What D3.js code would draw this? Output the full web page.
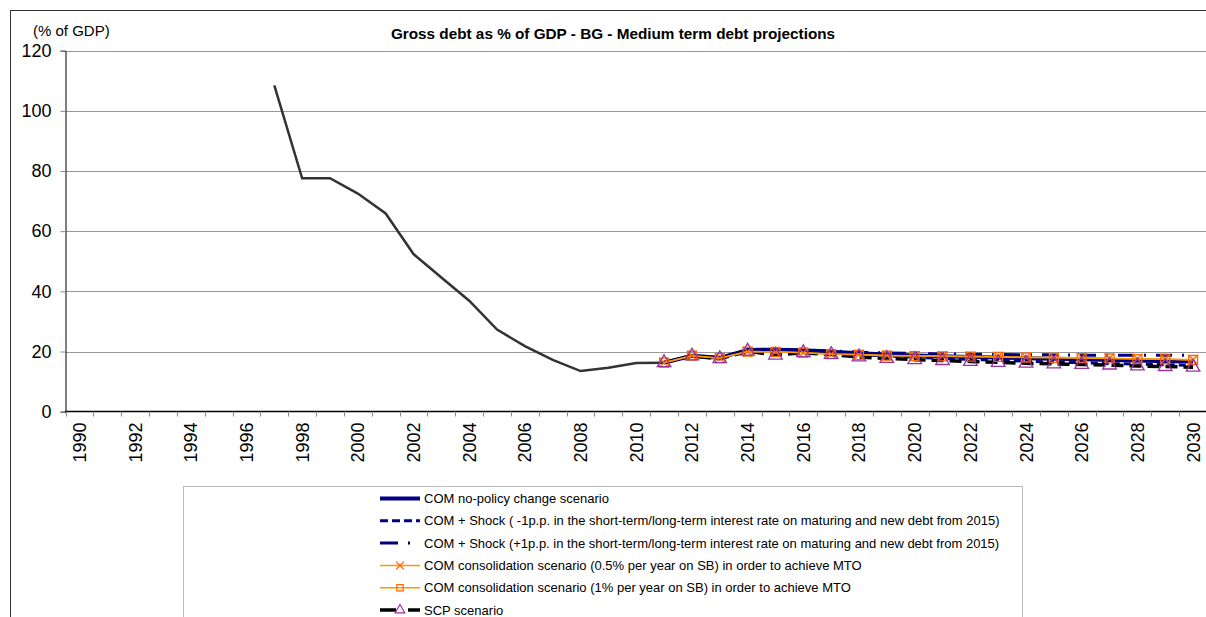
<!DOCTYPE html>
<html>
<head>
<meta charset="utf-8">
<script src="https://cdn.jsdelivr.net/npm/d3@7"></script>
<style>
  body { margin: 0; background: #fff; overflow: hidden; }
  svg { display: block; }
  text { font-family: "Liberation Sans", Arial, sans-serif; }
</style>
</head>
<body>
<svg id="chart"></svg>
<script>
// categories
const years = d3.range(1990, 2031)
const yTicks = [0, 20, 40, 60, 80, 100, 120]

// actual gross debt, 1997-2011
const actualYears = d3.range(1997, 2012)
const actualDebt = [108.5, 77.6, 77.6, 72.5, 65.9, 52.4, 44.6, 36.9, 27.3, 21.8, 17.2, 13.5, 14.6, 16.2, 16.3]

// projections, 2011-2030
const projYears = d3.range(2011, 2031)
const noPolicy   = [16.3, 18.6, 17.9, 20.5, 20.6, 20.4, 19.9, 19.4, 19.0, 18.7, 18.4, 18.2, 18.0, 17.8, 17.6, 17.4, 17.2, 17.0, 16.8, 16.7]
const shockMinus = [16.3, 18.6, 17.9, 20.5, 20.5, 20.2, 19.6, 19.0, 18.5, 18.1, 17.7, 17.4, 17.1, 16.8, 16.5, 16.3, 16.0, 15.8, 15.6, 15.4]
const shockPlus  = [16.3, 18.6, 17.9, 20.5, 20.7, 20.6, 20.2, 19.8, 19.5, 19.4, 19.2, 19.1, 19.0, 18.9, 18.9, 18.8, 18.8, 18.8, 18.8, 18.8]
const cons05     = [16.3, 18.6, 17.8, 20.0, 19.9, 19.6, 19.2, 19.0, 18.7, 18.6, 18.5, 18.4, 18.3, 18.1, 18.0, 17.9, 17.8, 17.6, 17.5, 17.3]
const cons1      = [16.3, 18.6, 17.8, 20.0, 19.9, 19.6, 19.1, 18.9, 18.6, 18.5, 18.4, 18.3, 18.2, 18.0, 17.9, 17.8, 17.7, 17.5, 17.4, 17.2]
const scp        = [16.3, 18.5, 17.6, 20.1, 18.8, 19.6, 19.0, 18.2, 17.7, 17.3, 17.0, 16.7, 16.4, 16.1, 15.9, 15.7, 15.5, 15.2, 15.0, 14.8]

const legendLabels = [
    "COM no-policy change scenario",
    "COM + Shock ( -1p.p. in the short-term/long-term interest rate on maturing and new debt from 2015)",
    "COM + Shock (+1p.p. in the short-term/long-term interest rate on maturing and new debt from 2015)",
    "COM consolidation scenario (0.5% per year on SB) in order to achieve MTO",
    "COM consolidation scenario (1% per year on SB) in order to achieve MTO",
    "SCP scenario"
]

const width = 1206,
    height = 617

const svg = d3.select("#chart")
    .attr("width", width)
    .attr("height", height)

// outer frame (cut off at right and bottom like the source)
svg.append("rect")
    .attr("x", 10.5).attr("y", 10.5)
    .attr("width", 1400).attr("height", 800)
    .attr("fill", "none").attr("stroke", "#333").attr("stroke-width", 1)

const x = d3.scaleBand()
    .domain(years)
    .range([65.5, 1207])
    .padding(0)

const y = d3.scaleLinear()
    .domain([0, 120])
    .range([411.7, 50.7])

const cx = d => x(d) + x.bandwidth() / 2

// gridlines
svg.append("g")
    .selectAll("line")
    .data(yTicks.filter(d => d > 0))
    .join("line")
    .attr("x1", 66).attr("x2", width)
    .attr("y1", d => Math.round(y(d)) + 0.5)
    .attr("y2", d => Math.round(y(d)) + 0.5)
    .attr("stroke", "#999").attr("stroke-width", 1)

// y axis
const yAxis = svg.append("g")
    .attr("transform", "translate(65.5,0)")
    .call(d3.axisLeft(y).tickValues(yTicks).tickSize(5).tickPadding(9))
yAxis.select(".domain").attr("stroke", "#000")
yAxis.selectAll(".tick line").attr("stroke", "#888")
yAxis.selectAll("text")
    .attr("font-size", 18).attr("fill", "#000")
    .attr("font-family", "Liberation Sans, Arial, sans-serif")

// x axis: ticks at band edges, labels every other year
const xAxis = svg.append("g").attr("transform", "translate(0,411.5)")
xAxis.append("line")
    .attr("x1", 65).attr("x2", width)
    .attr("stroke", "#000").attr("stroke-width", 1.5)
xAxis.selectAll(".edge")
    .data(years)
    .join("line")
    .attr("class", "edge")
    .attr("x1", d => Math.round(x(d)) + 0.5)
    .attr("x2", d => Math.round(x(d)) + 0.5)
    .attr("y1", 0).attr("y2", 5)
    .attr("stroke", "#888")
xAxis.selectAll("text")
    .data(years.filter(d => d % 2 === 0))
    .join("text")
    .attr("transform", d => "translate(" + (cx(d) + 6.5) + ",11) rotate(-90)")
    .attr("text-anchor", "end")
    .attr("font-size", 18)
    .text(d => d)

// titles
svg.append("text")
    .attr("x", 33).attr("y", 36)
    .attr("font-size", 15)
    .text("(% of GDP)")
svg.append("text")
    .attr("x", 613).attr("y", 39)
    .attr("text-anchor", "middle")
    .attr("font-size", 15.3).attr("font-weight", "bold")
    .text("Gross debt as % of GDP - BG - Medium term debt projections")

const lineGen = yrs => d3.line()
    .x((d, i) => cx(yrs[i]))
    .y(d => y(d))

// actual series
svg.append("path")
    .datum(actualDebt)
    .attr("d", lineGen(actualYears))
    .attr("fill", "none").attr("stroke", "#333").attr("stroke-width", 2.5)

// projection styles
const navy = "#000080", orange = "#ff9900", markOrange = "#ff6600", purple = "#993399"
const styles = [
    { data: noPolicy, stroke: navy, width: 4, dash: null },
    { data: shockMinus, stroke: navy, width: 3, dash: "7,4" },
    { data: shockPlus, stroke: navy, width: 3, dash: "16,10,2,10" },
    { data: scp, stroke: "#000", width: 3.5, dash: "12,6" },
    { data: cons05, stroke: orange, width: 1.5, dash: null },
    { data: cons1, stroke: orange, width: 1.5, dash: null }
]

styles.forEach(s => {
    svg.append("path")
        .datum(s.data)
        .attr("d", lineGen(projYears))
        .attr("fill", "none")
        .attr("stroke", s.stroke)
        .attr("stroke-width", s.width)
        .attr("stroke-dasharray", s.dash)
})

const squareSym = d3.symbol().type(d3.symbolSquare).size(80)
const crossSym = d3.symbol().type(d3.symbolX).size(60)
const triSym = d3.symbol().type(d3.symbolTriangle).size(80)

const drawMarkers = (data, sym, stroke, fill) => {
    svg.append("g")
        .selectAll("path")
        .data(data)
        .join("path")
        .attr("transform", (d, i) => "translate(" + cx(projYears[i]) + "," + y(d) + ")")
        .attr("d", sym)
        .attr("fill", fill)
        .attr("stroke", stroke)
        .attr("stroke-width", 1.3)
}
drawMarkers(cons1, squareSym, markOrange, "none")
drawMarkers(cons05, crossSym, markOrange, "none")
drawMarkers(scp, triSym, purple, "none")

// legend
const legend = svg.append("g")
legend.append("rect")
    .attr("x", 183.5).attr("y", 486.5)
    .attr("width", 839).attr("height", 200)
    .attr("fill", "#fff").attr("stroke", "#bbb")

const rowY = i => 498.5 + i * 22.3
const legStyles = [
    { stroke: navy, width: 4, dash: null },
    { stroke: navy, width: 3, dash: "8,4" },
    { stroke: navy, width: 3, dash: "18,10,2,10" },
    { stroke: orange, width: 1.5, dash: null, mark: crossSym },
    { stroke: orange, width: 1.5, dash: null, mark: squareSym },
    { stroke: "#000", width: 3.5, dash: "16,12" , mark: triSym}
]
legStyles.forEach((s, i) => {
    legend.append("line")
        .attr("x1", 380).attr("x2", 420)
        .attr("y1", rowY(i)).attr("y2", rowY(i))
        .attr("stroke", s.stroke).attr("stroke-width", s.width)
        .attr("stroke-dasharray", s.dash)
    if (s.mark) {
        legend.append("path")
            .attr("transform", "translate(400," + rowY(i) + ")")
            .attr("d", s.mark.size(40))
            .attr("fill", "none")
            .attr("stroke", i === 5 ? purple : markOrange)
            .attr("stroke-width", 1.2)
    }
    legend.append("text")
        .attr("x", 424).attr("y", rowY(i) + 4.5)
        .attr("font-size", 13)
        .text(legendLabels[i])
})
</script>
</body>
</html>
